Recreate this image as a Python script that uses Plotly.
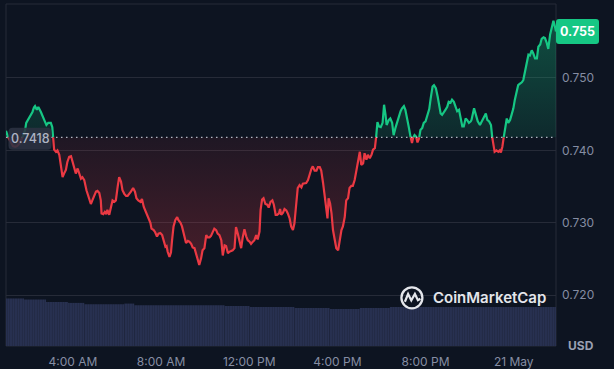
import numpy as np
import pandas as pd
import plotly.graph_objects as go

# ---------------- data ----------------
day0 = "2024-05-20"
minutes = [58,62,66,72,77,83,88,94,99,104,110,113,119,125,130,134,137,142,146,153,157,162,168,173,180,184,
 189,194,198,203,207,212,216,221,225,230,235,239,244,248,253,257,262,266,271,277,
 283,289,293,298,303,307,312,316,318,323,327,331,334,339,344,348,353,357,362,366,
 371,375,380,385,389,394,398,404,409,413,418,424,428,433,439,445,451,454,460,464,
 469,473,478,483,487,492,495,498,503,507,510,514,519,524,527,533,537,544,548,553,
 557,562,566,571,575,580,584,589,593,598,603,607,612,616,621,625,630,634,639,644,
 648,653,657,662,666,675,680,684,689,693,698,702,707,712,716,721,725,730,734,739,
 743,748,751,755,759,764,769,773,778,783,787,792,796,801,804,807,812,816,821,825,
 830,834,839,843,848,852,857,862,866,871,875,880,884,889,893,898,903,907,912,916,
 921,925,930,933,936,940,944,948,953,957,962,966,971,975,980,984,989,993,998,1002,
 1007,1012,1016,1021,1025,1030,1034,1039,1043,1048,1053,1057,1062,1064,
 1069,1073,1078,1083,1087,1091,1094,1100,1104,1109,1113,1118,1122,1127,1132,1136,1141,1145,1150,1154,
 1159,1163,1166,1170,1174,1178,1182,1186,1191,1195,1200,1205,1210,1214,1219,1223,1228,1233,1237,1241,
 1245,1250,1254,1259,1263,1268,1272,1277,1282,1286,1291,1295,1300,1304,1309,1313,1318,1323,1325,1332,
 1337,1342,1348,1353,1359,1364,1368,1373,1378,1381,1384,1388,1393,1398,1402,1405,1409,1413,1417,1421,
 1425,1430,1434,1439,1443,1448,1452,1457,1462,1466,1471,1475,1480,1484,1489,1493,1498,1503,1507,1512,
 1516,1521,1525,1530,1534,1539,1544,1548,1553,1555]
prices = [0.7427,0.7420,0.7416,0.7410,0.7406,0.7405,0.7406,0.7409,0.7413,0.7419,
 0.7428,0.7438,0.7443,0.7449,0.7453,0.7459,0.7461,0.7456,0.7460,0.7453,
 0.7449,0.7442,0.7435,0.7438,0.7438,0.7432,
 0.7401,0.7398,0.7400,0.7394,0.7380,0.7363,0.7368,0.7373,0.7384,0.7391,
 0.7392,0.7384,0.7373,0.7368,0.7375,0.7368,0.7361,0.7363,0.7359,0.7345,
 0.7336,0.7326,0.7331,0.7337,0.7343,0.7344,0.7341,0.7331,0.7313,0.7312,
 0.7315,0.7312,0.7318,0.7311,0.7320,0.7331,0.7329,0.7331,0.7350,0.7363,
 0.7357,0.7345,0.7340,0.7337,0.7337,0.7340,0.7343,0.7348,0.7343,0.7334,
 0.7331,0.7329,0.7333,0.7322,0.7315,0.7308,0.7300,0.7292,0.7290,0.7287,
 0.7281,0.7285,0.7286,0.7283,0.7274,0.7267,0.7268,0.7260,0.7253,0.7259,
 0.7276,0.7295,0.7304,0.7308,0.7304,0.7300,0.7295,0.7281,0.7272,0.7275,
 0.7274,0.7271,0.7266,0.7265,0.7258,0.7246,0.7242,0.7251,0.7262,0.7265,
 0.7283,0.7280,0.7280,0.7282,0.7288,0.7292,0.7290,0.7285,0.7283,0.7276,
 0.7255,0.7269,0.7268,0.7258,0.7260,0.7262,0.7265,0.7294,0.7285,0.7274,
 0.7265,0.7279,0.7291,0.7281,0.7276,0.7274,0.7271,0.7274,0.7276,0.7283,
 0.7277,0.7288,0.7318,0.7332,0.7334,0.7326,0.7325,0.7321,0.7329,0.7331,
 0.7325,0.7311,0.7311,0.7313,0.7319,0.7311,0.7314,0.7319,0.7317,0.7313,
 0.7306,0.7295,0.7290,0.7299,0.7322,0.7348,0.7352,0.7349,0.7354,0.7355,
 0.7355,0.7359,0.7366,0.7374,0.7378,0.7372,0.7372,0.7377,0.7377,0.7372,
 0.7355,0.7336,0.7320,0.7306,0.7334,0.7327,0.7313,0.7290,0.7276,0.7265,
 0.7262,0.7276,0.7290,0.7295,0.7308,0.7331,0.7334,0.7348,0.7351,0.7351,
 0.7359,0.7373,0.7387,0.7398,0.7380,0.7382,0.7396,0.7387,0.7394,0.7389,
 0.7394,0.7401,0.7403,0.7410,
 0.7439,0.7433,0.7432,0.7438,0.7463,0.7449,0.7435,0.7442,0.7444,0.7438,
 0.7421,0.7431,0.7438,0.7447,0.7454,0.7458,0.7461,0.7456,0.7440,0.7433,
 0.7419,0.7410,0.7417,0.7421,0.7419,0.7411,0.7416,0.7428,0.7431,0.7438,
 0.7440,0.7449,0.7457,0.7472,0.7488,0.7490,0.7486,0.7474,0.7460,0.7451,
 0.7449,0.7454,0.7456,0.7460,0.7467,0.7466,0.7470,0.7467,0.7458,0.7454,
 0.7456,0.7447,0.7433,0.7433,0.7444,0.7442,0.7438,0.7440,0.7442,0.7458,
 0.7449,0.7440,0.7435,0.7440,0.7447,0.7451,0.7442,0.7440,0.7435,0.7419,
 0.7412,0.7398,0.7400,0.7398,0.7400,0.7397,0.7405,0.7419,0.7431,0.7444,
 0.7438,0.7442,0.7449,0.7458,0.7470,0.7484,0.7490,0.7492,0.7494,0.7497,
 0.7509,0.7523,0.7532,0.7531,0.7538,0.7534,0.7527,0.7527,0.7543,0.7546,
 0.7554,0.7556,0.7555,0.7548,0.7540,0.7560,0.7569,0.7579,0.7569,0.7564]
baseline_price = 0.7418
baseline_label = "0.7418"
current_price_label = "0.755"

vol_start_min = [58, 107, 167, 227, 271, 380, 407, 653, 721, 843, 939, 1021, 1103]
vol_end_min = [107, 167, 227, 271, 380, 407, 653, 721, 843, 939, 1021, 1103, 1555]
vol_values = [139, 136, 129, 126, 122, 124, 119, 117, 114, 111, 108.5, 111, 114]

xtick_vals = ["2024-05-20 04:00", "2024-05-20 08:00", "2024-05-20 12:00",
              "2024-05-20 16:00", "2024-05-20 20:00", "2024-05-21 00:00"]
xtick_text = ["4:00 AM", "8:00 AM", "12:00 PM", "4:00 PM", "8:00 PM", "21 May"]
ytick_vals = [0.720, 0.730, 0.740, 0.750]

assert len(minutes) == len(prices), (len(minutes), len(prices))

# ---------------- styling ----------------
BG = "#0d1421"
GRID = "#262b38"
GREEN = "#16c784"
RED = "#ea3943"
TICK = "#858da3"
FONT = "Inter"

base = baseline_price
t = np.array(minutes, dtype=float)
p = np.array(prices, dtype=float)
tt, pp = [t[0]], [p[0]]
for i in range(1, len(t)):
    a, b = p[i - 1] - base, p[i] - base
    if a * b < 0:
        tt.append(t[i - 1] + (t[i] - t[i - 1]) * a / (a - b))
        pp.append(base)
    tt.append(t[i])
    pp.append(p[i])
tt = np.array(tt)
pp = np.array(pp)
times = pd.Timestamp(day0) + pd.to_timedelta(tt, unit="m")
upper = np.maximum(pp, base)
lower = np.minimum(pp, base)
green_line = np.where(pp >= base - 1e-12, pp, np.nan)
red_line = np.where(pp <= base + 1e-12, pp, np.nan)
base_arr = np.full_like(pp, base)

fig = go.Figure()

# volume bars
vs = np.array(vol_start_min, float)
ve = np.array(vol_end_min, float)
fig.add_trace(go.Bar(
    x=pd.Timestamp(day0) + pd.to_timedelta((vs + ve) / 2, unit="m"),
    y=vol_values, width=(ve - vs) * 60000, yaxis="y2",
    marker=dict(color="#283151", line=dict(width=0),
                pattern=dict(shape="|", size=2.5, solidity=0.3, fgcolor="#171d31", fillmode="overlay")),
    hoverinfo="skip", showlegend=False))

# green area above baseline
fig.add_trace(go.Scatter(x=times, y=base_arr, mode="lines", line=dict(width=0),
                         hoverinfo="skip", showlegend=False))
fig.add_trace(go.Scatter(x=times, y=upper, mode="lines", line=dict(width=0), fill="tonexty",
                         fillgradient=dict(type="vertical",
                                           colorscale=[[0, "rgba(22,199,132,0.12)"], [1, "rgba(22,199,132,0.32)"]],
                                           start=base, stop=0.7575),
                         hoverinfo="skip", showlegend=False))
# red area below baseline
fig.add_trace(go.Scatter(x=times, y=base_arr, mode="lines", line=dict(width=0),
                         hoverinfo="skip", showlegend=False))
fig.add_trace(go.Scatter(x=times, y=lower, mode="lines", line=dict(width=0), fill="tonexty",
                         fillgradient=dict(type="vertical",
                                           colorscale=[[0, "rgba(234,57,67,0.08)"], [1, "rgba(234,57,67,0.26)"]],
                                           start=base, stop=0.7245),
                         hoverinfo="skip", showlegend=False))
# price lines
fig.add_trace(go.Scatter(x=times, y=green_line, mode="lines", line=dict(color=GREEN, width=2.2),
                         connectgaps=False, hoverinfo="skip", showlegend=False))
fig.add_trace(go.Scatter(x=times, y=red_line, mode="lines", line=dict(color=RED, width=2.2),
                         connectgaps=False, hoverinfo="skip", showlegend=False))


def rrect(x0, y0, x1, y1, r):
    return (f"M{x0+r},{y0} L{x1-r},{y0} Q{x1},{y0} {x1},{y0+r} L{x1},{y1-r} Q{x1},{y1} {x1-r},{y1} "
            f"L{x0+r},{y1} Q{x0},{y1} {x0},{y1-r} L{x0},{y0+r} Q{x0},{y0} {x0+r},{y0} Z")


shapes = [
    # frame
    dict(type="rect", xref="paper", yref="paper", x0=0, x1=1, y0=0, y1=1,
         line=dict(color=GRID, width=1), layer="below"),
    # dotted baseline
    dict(type="line", xref="paper", yref="y", x0=0, x1=1, y0=base, y1=base,
         line=dict(color="rgba(205,210,222,0.85)", width=1.2, dash="1.5px,3.5px")),
    # baseline label box
    dict(type="path", xref="paper", yref="y", xsizemode="pixel", ysizemode="pixel",
         xanchor=0, yanchor=base, path=rrect(2.5, -12.5, 45.5, 9.5, 4),
         fillcolor="rgba(44,50,66,0.88)", line=dict(width=0)),
    # current price box
    dict(type="path", xref="paper", yref="y", xsizemode="pixel", ysizemode="pixel",
         xanchor=1, yanchor=prices[-1], path=rrect(0, -12.5, 43, 12.5, 3),
         fillcolor=GREEN, line=dict(width=0)),
    # CoinMarketCap logo
    dict(type="circle", xref="paper", yref="paper", xsizemode="pixel", ysizemode="pixel",
         xanchor=0.738, yanchor=0.141, x0=-10.5, x1=10.5, y0=-10.5, y1=10.5,
         line=dict(color="#e4e6eb", width=2.3)),
    dict(type="path", xref="paper", yref="paper", xsizemode="pixel", ysizemode="pixel",
         xanchor=0.738, yanchor=0.141,
         path="M-7,-4 L-3.8,3.8 L-0.6,-2.6 L3,3.8 L6,-2.5 L8.5,-1",
         line=dict(color="#e4e6eb", width=2.2)),
]

annotations = [
    dict(xref="paper", yref="y", x=0, y=base, xanchor="center", yanchor="middle",
         xshift=24, yshift=-1.5, text=baseline_label, showarrow=False,
         font=dict(family=FONT, size=12.5, color="#aeb4c3", weight=500)),
    dict(xref="paper", yref="y", x=1, y=prices[-1], xanchor="center", yanchor="middle",
         xshift=21.5, text=current_price_label, showarrow=False,
         font=dict(family=FONT, size=12.5, color="#ffffff", weight=700)),
    dict(xref="paper", yref="paper", x=1, y=0, xanchor="center", yanchor="middle",
         xshift=25, yshift=1, text="USD", showarrow=False,
         font=dict(family=FONT, size=12, color="#9aa1b3", weight=700)),
    dict(xref="paper", yref="paper", x=0.7725, y=0.141, xanchor="left", yanchor="middle",
         text="CoinMarketCap", showarrow=False,
         font=dict(family=FONT, size=15, color="#e4e6eb", weight=600)),
]

fig.update_layout(
    width=614, height=369,
    margin=dict(l=6, r=58, t=4, b=23, autoexpand=False),
    paper_bgcolor=BG, plot_bgcolor=BG,
    showlegend=False, hovermode=False, barmode="overlay",
    font=dict(family=FONT, size=12, color=TICK),
    xaxis=dict(type="date", range=[times[0], times[-1]], showgrid=False, zeroline=False,
               showline=False, ticks="", tickvals=xtick_vals, ticktext=xtick_text, automargin=False,
               tickfont=dict(family=FONT, size=12, color=TICK), ticklabelstandoff=7),
    yaxis=dict(side="right", range=[0.7130, 0.7602], tickvals=ytick_vals, tickformat=".3f",
               showgrid=True, gridcolor=GRID, gridwidth=1, zeroline=False, showline=False, automargin=False,
               ticks="", tickfont=dict(family=FONT, size=12, color=TICK), ticklabelstandoff=5),
    yaxis2=dict(overlaying="y", range=[0, 1000], visible=False),
    shapes=shapes, annotations=annotations,
)

fig.write_html("out.html", config={"displayModeBar": False, "staticPlot": True},
               post_script="document.body.style.margin='0';document.body.style.background='%s';" % BG)
